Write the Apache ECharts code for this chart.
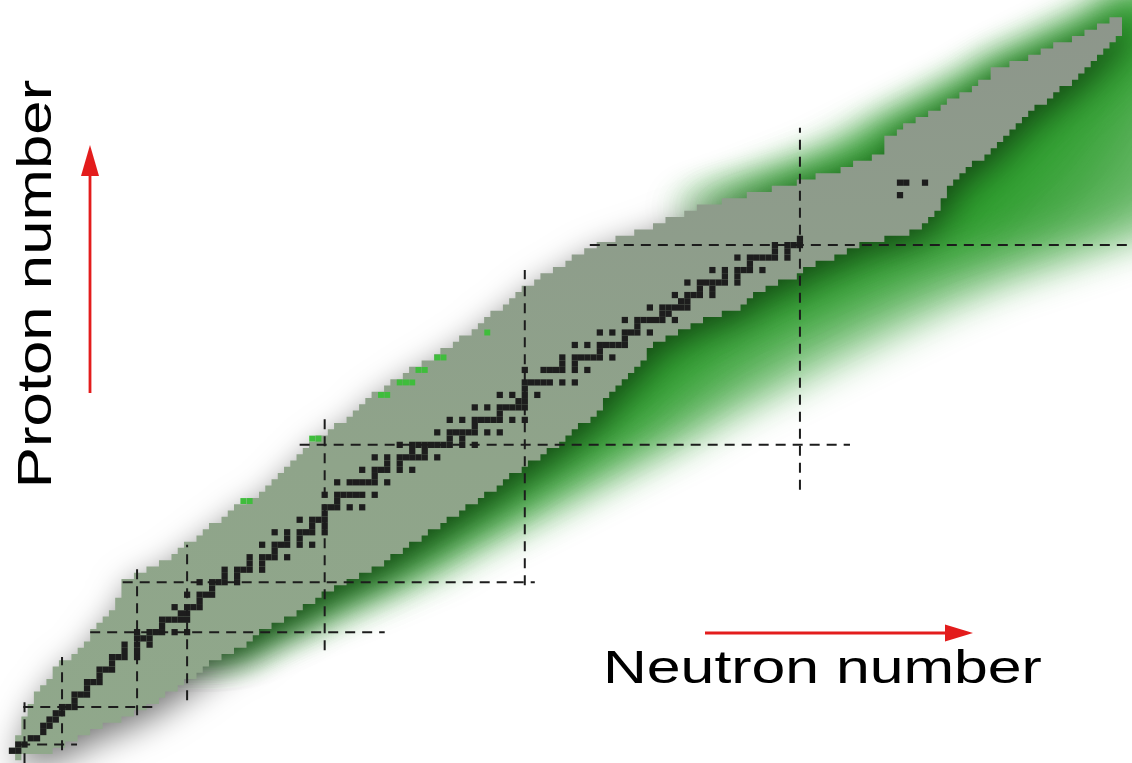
<!DOCTYPE html>
<html>
<head>
<meta charset="utf-8">
<script src="https://cdn.jsdelivr.net/npm/echarts/dist/echarts.min.js"></script>
<style>
  html, body { margin: 0; padding: 0; background: #fff; }
  #chart { width: 1132px; height: 763px; }
</style>
</head>
<body>
<div id="chart"></div>
<script>
// known nuclides: lightest / heaviest neutron number for each proton number Z (index = Z)
var knownMinN = [1, 0, 1, 1, 2, 2, 2, 3, 3, 4,
  4, 5, 6, 7, 7, 8, 10, 11, 12, 13,
  13, 14, 15, 16, 17, 17, 18, 18, 18, 20,
  22, 24, 26, 27, 28, 30, 31, 32, 34, 35,
  36, 38, 40, 41, 42, 43, 44, 45, 46, 47,
  48, 49, 51, 52, 54, 55, 56, 57, 58, 60,
  61, 63, 64, 66, 68, 69, 71, 72, 74, 75,
  76, 77, 79, 80, 81, 82, 84, 85, 87, 89,
  90, 92, 94, 97, 100, 103, 105, 108, 110, 114,
  118, 122, 126, 129, 133, 135, 138, 140, 140, 140,
  142, 143, 145, 147, 149, 150, 152, 154, 155, 157,
  157, 160, 163, 165, 167, 170, 172, 174, 176];
var knownMaxN = [1, 6, 8, 10, 12, 14, 17, 19, 21, 23,
  24, 26, 27, 29, 30, 31, 33, 35, 37, 38,
  39, 41, 43, 45, 46, 48, 49, 51, 53, 55,
  57, 59, 60, 62, 63, 65, 66, 68, 69, 71,
  72, 74, 75, 77, 78, 79, 81, 82, 84, 85,
  87, 88, 89, 90, 92, 93, 94, 94, 95, 96,
  97, 98, 99, 100, 101, 101, 102, 104, 106, 108,
  110, 113, 116, 117, 118, 120, 122, 125, 126, 128,
  131, 133, 135, 139, 143, 145, 146, 147, 148, 148,
  149, 149, 150, 151, 152, 153, 155, 156, 157, 158,
  159, 160, 161, 162, 163, 165, 166, 167, 169, 170,
  171, 172, 173, 174, 175, 176, 177, 177, 177];

// predicted (green) region: outer neutron-rich extent per Z
var greenHiN = [null, null, null, null, null, null, null, null, null, null,
  null, null, null, null, null, null, null, 37, 40, 42,
  44, 47, 49, 52, 54, 57, 59, 62, 64, 66,
  69, 71, 72, 74, 76, 78, 80, 82, 84, 86,
  88, 90, 92, 94, 96, 98, 100, 102, 104, 106,
  108, 110, 112, 113, 115, 117, 119, 121, 123, 125,
  127, 129, 131, 133, 135, 137, 139, 141, 143, 145,
  147, 149, 151, 154, 156, 158, 161, 164, 167, 170,
  173, 176, 179, 182, 185, 188, 190, 192, 194, 196,
  198, 200, 200, 200, 200, 200, 200, 200, 200, 200,
  200, 200, 200, 200, 200, 200, 200, 200, 200, 200,
  200, 200, 200, 200, 200, 200, 200, 200, 200, 200,
  200, 200];
// outer proton-rich extent of the green, only where it shows beyond the known nuclides
var greenLoN = [];
greenLoN[88] = 106; greenLoN[89] = 108; greenLoN[90] = 111; greenLoN[91] = 114;
greenLoN[92] = 117; greenLoN[93] = 119; greenLoN[94] = 122; greenLoN[95] = 124;
greenLoN[96] = 127; greenLoN[97] = 129; greenLoN[98] = 131; greenLoN[99] = 133;
greenLoN[100] = 135; greenLoN[101] = 137; greenLoN[102] = 139; greenLoN[103] = 141;
greenLoN[104] = 143; greenLoN[105] = 145; greenLoN[106] = 147; greenLoN[107] = 149;
greenLoN[108] = 151; greenLoN[109] = 153; greenLoN[110] = 154; greenLoN[111] = 156;
greenLoN[112] = 158; greenLoN[113] = 160; greenLoN[114] = 162; greenLoN[115] = 164;
greenLoN[116] = 166; greenLoN[117] = 168; greenLoN[118] = 170; greenLoN[119] = 172;
greenLoN[120] = 174; greenLoN[121] = 176;

// stable nuclides: neutron numbers for each Z
var stableN = [
  [], [0, 1], [1, 2], [3, 4], [5], [5, 6], [6, 7], [7, 8], [8, 9, 10], [10],
  [10, 11, 12], [12], [12, 13, 14], [14], [14, 15, 16], [16], [16, 17, 18, 20], [18, 20], [18, 20, 22], [20, 21, 22],
  [20, 22, 23, 24, 26, 28], [24], [24, 25, 26, 27, 28], [27, 28], [26, 28, 29, 30], [30], [28, 30, 31, 32], [32], [30, 32, 33, 34, 36], [34, 36],
  [34, 36, 37, 38, 40], [38, 40], [38, 40, 41, 42, 44], [42], [40, 42, 43, 44, 46, 48], [44, 46], [42, 44, 46, 47, 48, 50], [48, 50], [46, 48, 49, 50], [50],
  [50, 51, 52, 54, 56], [52], [50, 52, 53, 54, 55, 56, 58], [], [52, 54, 55, 56, 57, 58, 60], [58], [56, 58, 59, 60, 62, 64], [60, 62], [58, 60, 62, 63, 64, 65, 66, 68], [64, 66],
  [62, 64, 65, 66, 67, 68, 69, 70, 72, 74], [70, 72], [68, 70, 71, 72, 73, 74, 76, 78], [74], [70, 72, 74, 75, 76, 77, 78, 80, 82], [78], [74, 76, 78, 79, 80, 81, 82], [81, 82], [78, 80, 82, 84], [82],
  [82, 83, 84, 85, 86, 88, 90], [], [82, 85, 86, 87, 88, 90, 92], [88, 90], [88, 90, 91, 92, 93, 94, 96], [94], [90, 92, 94, 95, 96, 97, 98], [98], [94, 96, 98, 99, 100, 102], [100],
  [98, 100, 101, 102, 103, 104, 106], [104, 105], [102, 104, 105, 106, 107, 108], [107, 108], [106, 108, 109, 110, 112], [110, 112], [108, 110, 111, 112, 113, 114, 116], [114, 116], [112, 114, 116, 117, 118, 120], [118],
  [116, 118, 119, 120, 121, 122, 124], [122, 124], [122, 124, 125, 126], [126], [], [], [], [], [], [],
  [142], [], [142, 143, 146]
];

// recently found nuclides on the proton-rich edge [N, Z]
var newCells = [[37, 41], [38, 41], [48, 51], [49, 51], [59, 58], [60, 58], [62, 60], [63, 60], [64, 60],
  [65, 62], [66, 62], [68, 64], [69, 64], [76, 68]];

// magic numbers: horizontal [Z, N from, N to], vertical [N, Z from, Z to]
var magicH = [[2, 1.3, 10.4], [8, 1.8, 23.3], [20, 12.5, 59.6], [28, 17.7, 83.6], [50, 46, 134], [82, 92.4, 180]];
var magicV = [[2, -1, 9.1], [8, 1.1, 16], [20, 6.7, 31.2], [28, 9.1, 34], [50, 17.1, 54.8], [82, 27.5, 78], [126, 42.8, 100.8]];

var glowSteps = [1, 0.82, 0.64, 0.46, 0.3, 0.16];

var stableData = [];
stableN.forEach(function (list, z) {
  list.forEach(function (n) { stableData.push([n, z]); });
});
var magicData = [];
magicH.forEach(function (m) { magicData.push([m[1], m[0], m[2], m[0]]); });
magicV.forEach(function (m) { magicData.push([m[0], m[1], m[0], m[2]]); });

function stairs(api, rows) {
  var left = [], right = [];
  rows.forEach(function (r) {
    left.push(api.coord([r[1] - 0.5, r[0] - 0.5]), api.coord([r[1] - 0.5, r[0] + 0.5]));
    right.push(api.coord([r[2] + 0.5, r[0] - 0.5]), api.coord([r[2] + 0.5, r[0] + 0.5]));
  });
  return left.concat(right.reverse());
}

function cellRect(api, color, shrink) {
  var c = api.coord([api.value(0), api.value(1)]);
  var s = api.size([1, 1]);
  var w = s[0] - shrink, h = s[1] - shrink;
  return { type: 'rect', shape: { x: c[0] - w / 2, y: c[1] - h / 2, width: w, height: h }, style: { fill: color } };
}

var chart = echarts.init(document.getElementById('chart'));

chart.setOption({
  animation: false,
  backgroundColor: '#ffffff',
  grid: { left: 0, right: 0, top: 0, bottom: 0, containLabel: false },
  xAxis: { type: 'value', min: -1.92, max: 179.1, show: false },
  yAxis: { type: 'value', min: -0.96, max: 121.26, show: false },
  series: [
    {
      // blurred green band of predicted nuclides
      type: 'custom',
      z: 1,
      data: glowSteps.map(function (f, i) { return [i, 0]; }),
      renderItem: function (params, api) {
        var f = glowSteps[params.dataIndex];
        var rows = [];
        for (var z = 17; z < greenHiN.length; z++) {
          var k = Math.min(z, knownMinN.length - 1);
          var coreLo = knownMinN[k], coreHi = knownMaxN[k];
          var hi = coreHi + f * (greenHiN[z] - coreHi);
          var lo = greenLoN[z] == null ? (coreLo + coreHi) / 2 : (coreLo + 1) - f * (coreLo + 1 - greenLoN[z]);
          rows.push([z, lo, hi]);
        }
        return {
          type: 'polygon',
          x: 4000,
          shape: { points: stairs(api, rows) },
          style: { fill: '#000', shadowBlur: 36, shadowOffsetX: -4000, shadowColor: 'rgba(22,145,22,0.32)' }
        };
      }
    },
    {
      // known nuclides
      type: 'custom',
      z: 2,
      data: [[0, 0]],
      renderItem: function (params, api) {
        var rows = knownMinN.map(function (lo, z) { return [z, lo, knownMaxN[z]]; });
        return {
          type: 'polygon',
          shape: { points: stairs(api, rows) },
          style: {
            fill: new echarts.graphic.LinearGradient(0, 0, 0, 1, [
              { offset: 0, color: '#8d968b' },
              { offset: 0.3, color: '#8e9d8b' },
              { offset: 0.6, color: '#8fa48a' },
              { offset: 1, color: '#90a88b' }
            ]),
            shadowBlur: 34, shadowOffsetX: 5, shadowOffsetY: 9, shadowColor: 'rgba(0,0,0,0.55)'
          }
        };
      }
    },
    {
      type: 'custom',
      z: 3,
      data: newCells,
      renderItem: function (params, api) { return cellRect(api, '#3fbd3c', 0.3); }
    },
    {
      // stable nuclides
      type: 'custom',
      z: 4,
      data: stableData,
      renderItem: function (params, api) { return cellRect(api, '#1d1d1d', 0); }
    },
    {
      // magic number lines
      type: 'custom',
      z: 5,
      data: magicData,
      renderItem: function (params, api) {
        var a = api.coord([api.value(0), api.value(1)]);
        var b = api.coord([api.value(2), api.value(3)]);
        return {
          type: 'line',
          shape: { x1: a[0], y1: a[1], x2: b[0], y2: b[1] },
          style: { stroke: '#1c1c1c', lineWidth: 2, lineDash: [10, 7] }
        };
      }
    }
  ],
  graphic: [
    {
      type: 'text', x: 37, y: 284, rotation: Math.PI / 2, scaleX: 1.26,
      style: { text: 'Proton number', font: '49px "Liberation Sans", Arial, sans-serif', fill: '#000', align: 'center', verticalAlign: 'middle' }
    },
    {
      type: 'text', x: 603, y: 670, scaleX: 1.32,
      style: { text: 'Neutron number', font: '46px "Liberation Sans", Arial, sans-serif', fill: '#000', align: 'left', verticalAlign: 'middle' }
    },
    { type: 'line', shape: { x1: 90, y1: 393, x2: 90, y2: 170 }, style: { stroke: '#e31c1c', lineWidth: 2.8 } },
    { type: 'polygon', shape: { points: [[81, 176], [90, 145], [99, 176]] }, style: { fill: '#e31c1c' } },
    { type: 'line', shape: { x1: 705, y1: 633, x2: 950, y2: 633 }, style: { stroke: '#e31c1c', lineWidth: 2.8 } },
    { type: 'polygon', shape: { points: [[945, 624.5], [973, 633], [945, 641.5]] }, style: { fill: '#e31c1c' } }
  ]
});
</script>
</body>
</html>
